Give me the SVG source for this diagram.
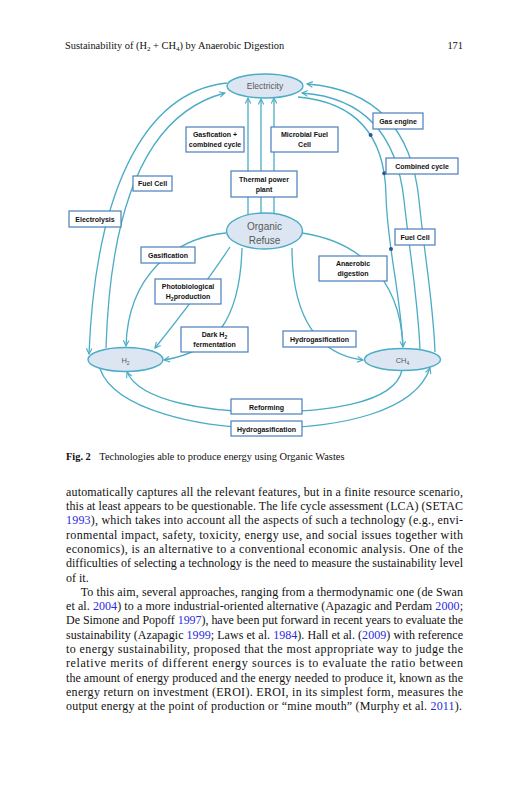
<svg xmlns="http://www.w3.org/2000/svg" width="527" height="800" viewBox="0 0 527 800">
<style>
.bg{fill:#ffffff}
.ln{fill:none;stroke:#4BACC6;stroke-width:1.3}
.arw{marker-end:url(#ah)}
.ell{fill:#DCE6F2;stroke:#4BACC6;stroke-width:1.4}
.box{fill:#ffffff;stroke:#4A7EBB;stroke-width:1.2}
.lbl{font-family:"Liberation Sans",Arial,sans-serif;font-size:7px;font-weight:bold;fill:#111111;text-anchor:middle}
.etx{font-family:"Liberation Sans",Arial,sans-serif;fill:#595959;text-anchor:middle}
.dot{fill:#2F5597}
.serif{font-family:"Liberation Serif","Times New Roman",serif;fill:#111111}
.body{font-family:"Liberation Serif","Times New Roman",serif;font-size:12px;fill:#111111}
.cite{fill:#2a2ae0}
</style>
<defs>
<marker id="ah" viewBox="0 0 10 10" refX="9" refY="5" markerWidth="7" markerHeight="7" markerUnits="userSpaceOnUse" orient="auto">
<path d="M1,1 L9,5 L1,9" fill="none" stroke="#4BACC6" stroke-width="1.6"/>
</marker>
</defs>
<rect class="bg" x="0" y="0" width="527" height="800"/>

<!-- header -->
<text class="serif" x="65" y="48.5" font-size="10.4">Sustainability of (H<tspan font-size="7" dy="2">2</tspan><tspan dy="-2"> + CH</tspan><tspan font-size="7" dy="2">4</tspan><tspan dy="-2">) by Anaerobic Digestion</tspan></text>
<text class="serif" x="463" y="48.5" font-size="10.4" text-anchor="end">171</text>

<!-- connectors -->
<g id="connectors">
<path class="ln arw" d="M227,83 C140,92 95,200 89,354"/>
<path class="ln arw" d="M106,348 C110,220 140,115 225,93"/>
<path class="ln arw" d="M248,215 L248,98"/>
<path class="ln arw" d="M261,213 L261,99"/>
<path class="ln arw" d="M274,215 L274,98"/>
<path class="ln arw" d="M435,352 C433,300 425,260 419,200 C413,140 385,90 307,84"/>
<path class="ln arw" d="M420,350 C418,300 410,255 404,200 C398,145 372,98 302,93"/>
<path class="ln" d="M298,97 C365,103 385,145 386,195 C387,245 400,290 403,347"/>
<path class="ln arw" d="M226,233 C175,238 128,275 126,346"/>
<path class="ln arw" d="M230,247 Q200,292 155,348"/>
<path class="ln arw" d="M242,248 C240,320 215,352 164,360"/>
<path class="ln arw" d="M302,233 C350,240 400,270 403,347"/>
<path class="ln arw" d="M292,248 C292,320 320,355 363,360"/>
<path class="ln arw" d="M402,370 C395,405 320,412 266,412 C210,412 140,402 127,372"/>
<path class="ln arw" d="M100,369 C115,410 200,428 266,428 C340,428 415,412 430,368"/>
<circle class="dot" cx="370.6" cy="134.9" r="2"/>
<circle class="dot" cx="384.2" cy="173.2" r="2"/>
<circle class="dot" cx="391" cy="249" r="2"/>
</g>

<!-- ellipse nodes -->
<g id="electricity">
<ellipse class="ell" cx="265" cy="86" rx="38" ry="12"/>
<text class="etx" x="265" y="89" font-size="8.5">Electricity</text>
</g>
<g id="organic-refuse">
<ellipse class="ell" cx="264.5" cy="231" rx="38" ry="18"/>
<text class="etx" x="264.5" y="229.5" font-size="10">Organic</text>
<text class="etx" x="264.5" y="243.5" font-size="10">Refuse</text>
</g>
<g id="h2">
<ellipse class="ell" cx="125.5" cy="359.5" rx="37.5" ry="12"/>
<text class="etx" x="125.5" y="363" font-size="7.5">H<tspan font-size="5" dy="1.5">2</tspan></text>
</g>
<g id="ch4">
<ellipse class="ell" cx="402.5" cy="359.5" rx="38" ry="11"/>
<text class="etx" x="402.5" y="363" font-size="7.5">CH<tspan font-size="5" dy="1.5">4</tspan></text>
</g>

<!-- label boxes -->
<g id="gasification-combined-cycle">
<rect class="box" x="186" y="127" width="58" height="25"/>
<text class="lbl" x="215" y="137">Gasfication +</text>
<text class="lbl" x="215" y="147">combined cycle</text>
</g>
<g id="microbial-fuel-cell">
<rect class="box" x="271" y="127" width="67" height="25"/>
<text class="lbl" x="304.5" y="137">Microbial Fuel</text>
<text class="lbl" x="304.5" y="147">Cell</text>
</g>
<g id="thermal-power-plant">
<rect class="box" x="231" y="171" width="66" height="26"/>
<text class="lbl" x="264" y="181.5">Thermal power</text>
<text class="lbl" x="264" y="191.5">plant</text>
</g>
<g id="fuel-cell-left">
<rect class="box" x="133" y="176" width="39" height="15"/>
<text class="lbl" x="152.5" y="186">Fuel Cell</text>
</g>
<g id="gas-engine">
<rect class="box" x="373" y="113" width="50" height="16"/>
<text class="lbl" x="398" y="124">Gas engine</text>
</g>
<g id="combined-cycle">
<rect class="box" x="386" y="158" width="72" height="16"/>
<text class="lbl" x="422" y="169">Combined cycle</text>
</g>
<g id="electrolysis">
<rect class="box" x="69" y="211" width="52" height="16"/>
<text class="lbl" x="95" y="222">Electrolysis</text>
</g>
<g id="fuel-cell-right">
<rect class="box" x="395" y="229" width="40" height="16"/>
<text class="lbl" x="415" y="240">Fuel Cell</text>
</g>
<g id="gasification">
<rect class="box" x="141" y="247" width="54" height="16"/>
<text class="lbl" x="168" y="258">Gasification</text>
</g>
<g id="photobiological">
<rect class="box" x="155" y="279" width="66" height="25"/>
<text class="lbl" x="188" y="289">Photobiological</text>
<text class="lbl" x="188" y="299">H<tspan font-size="5" dy="1.5">2</tspan><tspan dy="-1.5">production</tspan></text>
</g>
<g id="anaerobic-digestion">
<rect class="box" x="319" y="256" width="68" height="25"/>
<text class="lbl" x="353" y="266">Anaerobic</text>
<text class="lbl" x="353" y="276">digestion</text>
</g>
<g id="dark-fermentation">
<rect class="box" x="181" y="327" width="67" height="25"/>
<text class="lbl" x="214.5" y="337">Dark H<tspan font-size="5" dy="1.5">2</tspan></text>
<text class="lbl" x="214.5" y="347">fermentation</text>
</g>
<g id="hydrogasification-mid">
<rect class="box" x="283" y="331" width="73" height="16"/>
<text class="lbl" x="319.5" y="342">Hydrogasification</text>
</g>
<g id="reforming">
<rect class="box" x="231" y="399" width="71" height="15"/>
<text class="lbl" x="266.5" y="409.5">Reforming</text>
</g>
<g id="hydrogasification-bottom">
<rect class="box" x="231" y="421" width="71" height="15"/>
<text class="lbl" x="266.5" y="431.5">Hydrogasification</text>
</g>

<!-- caption -->
<text class="serif" x="66" y="459.5" font-size="10.4"><tspan font-weight="bold">Fig. 2</tspan><tspan x="99.3">Technologies able to produce energy using Organic Wastes</tspan></text>

<!-- body text -->
<text class="body" x="66" y="495.7" textLength="397" lengthAdjust="spacing">automatically captures all the relevant features, but in a finite resource scenario,</text>
<text class="body" x="66" y="510" textLength="397" lengthAdjust="spacing">this at least appears to be questionable. The life cycle assessment (LCA) (SETAC</text>
<text class="body" x="66" y="524.3" textLength="397" lengthAdjust="spacing"><tspan class="cite">1993</tspan>), which takes into account all the aspects of such a technology (e.g., envi-</text>
<text class="body" x="66" y="538.6" textLength="397" lengthAdjust="spacing">ronmental impact, safety, toxicity, energy use, and social issues together with</text>
<text class="body" x="66" y="552.9" textLength="397" lengthAdjust="spacing">economics), is an alternative to a conventional economic analysis. One of the</text>
<text class="body" x="66" y="567.2" textLength="397" lengthAdjust="spacing">difficulties of selecting a technology is the need to measure the sustainability level</text>
<text class="body" x="66" y="581.5">of it.</text>
<text class="body" x="80.7" y="595.8" textLength="382.3" lengthAdjust="spacing">To this aim, several approaches, ranging from a thermodynamic one (de Swan</text>
<text class="body" x="66" y="610.1" textLength="397" lengthAdjust="spacing">et al. <tspan class="cite">2004</tspan>) to a more industrial-oriented alternative (Apazagic and Perdam <tspan class="cite">2000</tspan>;</text>
<text class="body" x="66" y="624.4" textLength="397" lengthAdjust="spacing">De Simone and Popoff <tspan class="cite">1997</tspan>), have been put forward in recent years to evaluate the</text>
<text class="body" x="66" y="638.7" textLength="397" lengthAdjust="spacing">sustainability (Azapagic <tspan class="cite">1999</tspan>; Laws et al. <tspan class="cite">1984</tspan>). Hall et al. (<tspan class="cite">2009</tspan>) with reference</text>
<text class="body" x="66" y="653" textLength="397" lengthAdjust="spacing">to energy sustainability, proposed that the most appropriate way to judge the</text>
<text class="body" x="66" y="667.3" textLength="397" lengthAdjust="spacing">relative merits of different energy sources is to evaluate the ratio between</text>
<text class="body" x="66" y="681.6" textLength="397" lengthAdjust="spacing">the amount of energy produced and the energy needed to produce it, known as the</text>
<text class="body" x="66" y="695.9" textLength="397" lengthAdjust="spacing">energy return on investment (EROI). EROI, in its simplest form, measures the</text>
<text class="body" x="66" y="710.2" textLength="396" lengthAdjust="spacing">output energy at the point of production or “mine mouth” (Murphy et al. <tspan class="cite">2011</tspan>).</text>
</svg>
